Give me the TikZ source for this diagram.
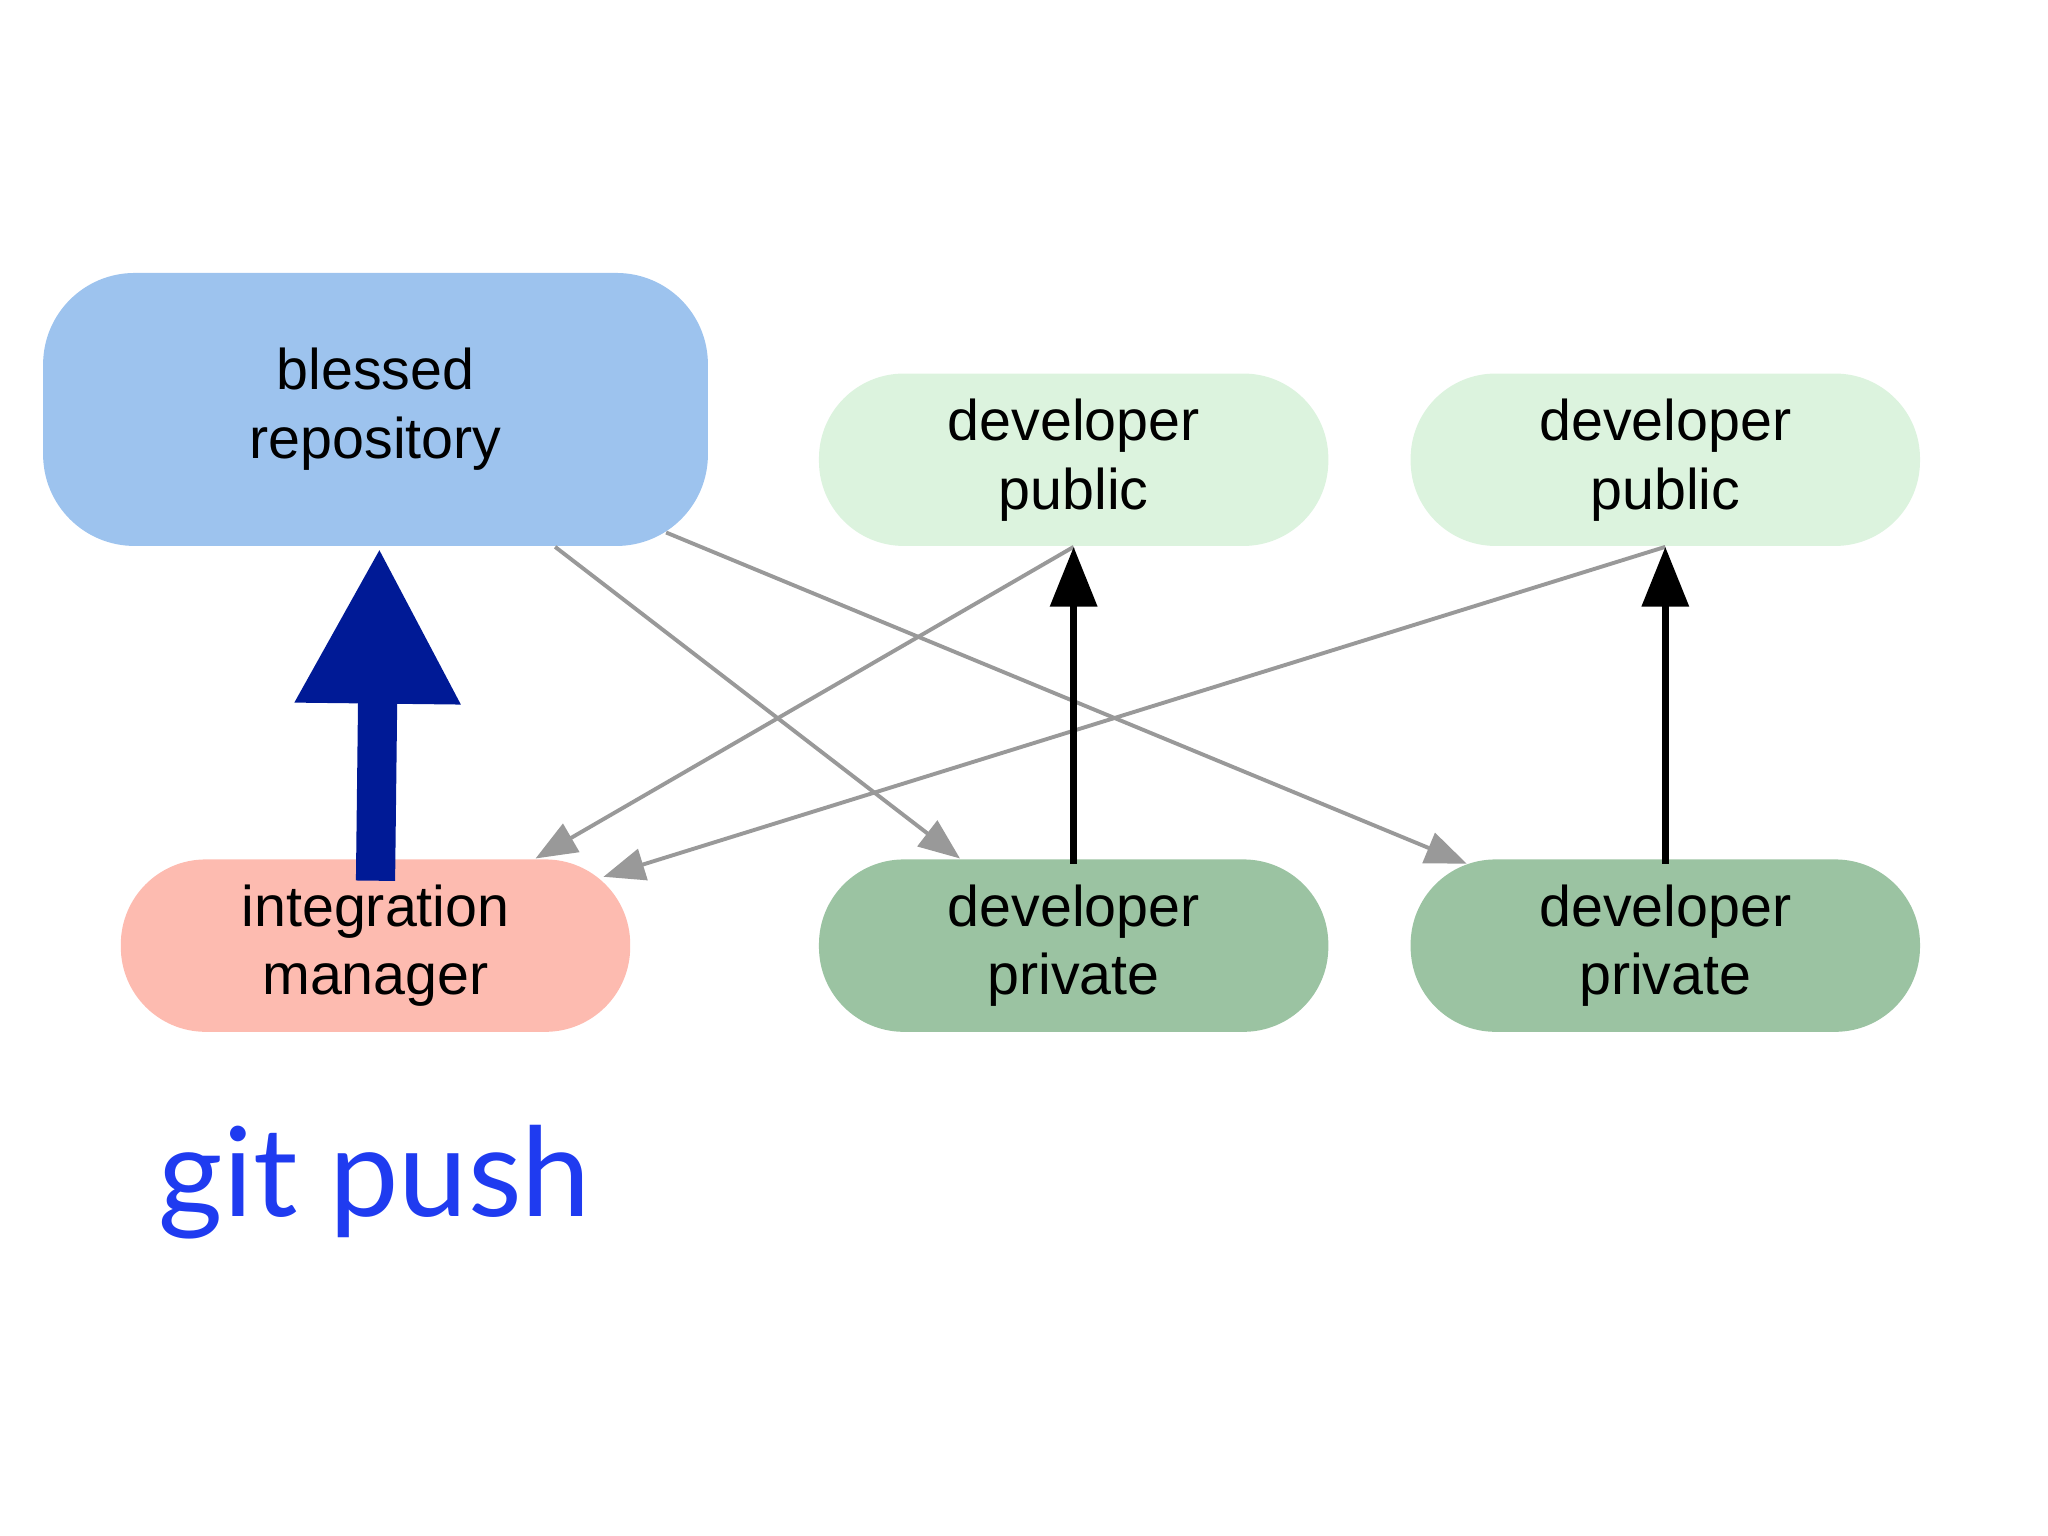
\documentclass[tikz,border=0pt]{standalone}
\usepackage{fontspec}
\setmainfont{Liberation Sans}
\newfontfamily\pushfont{Lato}
\usetikzlibrary{arrows.meta,positioning}
\definecolor{blessedblue}{HTML}{9DC3EE}
\definecolor{pubgreen}{HTML}{DCF3DE}
\definecolor{privgreen}{HTML}{9BC3A2}
\definecolor{mgrred}{HTML}{FDBBB0}
\definecolor{pushnavy}{HTML}{001A96}
\definecolor{pushblue}{HTML}{1F3BF0}
\tikzset{
  repo/.style={rectangle, rounded corners=0.65cm, minimum width=3.9cm, minimum height=1.32cm,
    align=center, font=\fontsize{12.5}{15}\selectfont, inner sep=0pt},
  pull/.style={draw=black!40, line width=0.85pt, -{Triangle[width=7pt,length=9pt]}},
  publish/.style={draw=black, line width=1.5pt, -{Triangle[width=10pt,length=13pt]}},
}
\begin{document}
\begin{tikzpicture}
\useasboundingbox (0,0) rectangle (15.68,-11.76);

\node [repo, fill=blessedblue, rounded corners=0.7cm, minimum width=5.09cm, minimum height=2.09cm] (blessed) at (2.875,-3.135) {blessed\\repository};
\node [repo, fill=pubgreen] (pub_a) at (8.22,-3.52) {developer\\public};
\node [repo, fill=pubgreen] (pub_b) at (12.75,-3.52) {developer\\public};
\node [repo, fill=mgrred] (manager) at (2.875,-7.24) {integration\\manager};
\node [repo, fill=privgreen] (priv_a) at (8.22,-7.24) {developer\\private};
\node [repo, fill=privgreen] (priv_b) at (12.75,-7.24) {developer\\private};

\node [font=\pushfont\fontsize{27}{30}\selectfont, text=pushblue] (push) at (2.87,-9.05) {git push};

% pulls from public repositories
\draw [pull] ([xshift=1.375cm]blessed.south) -- ([xshift=-0.87cm]priv_a.north);
\draw [pull] ([xshift=2.225cm, yshift=0.11cm]blessed.south) -- ([xshift=-1.52cm, yshift=-0.04cm]priv_b.north);
\draw [pull] (pub_a.south) -- ([xshift=1.225cm]manager.north);
\draw [pull] (pub_b.south) -- ([xshift=1.745cm, yshift=-0.14cm]manager.north);

% developers publish
\draw [publish] ([yshift=-0.04cm]priv_a.north) -- (pub_a.south);
\draw [publish] ([yshift=-0.04cm]priv_b.north) -- (pub_b.south);

% manager pushes
\draw [pushnavy, line width=0.3cm, -{Triangle[width=1.18cm,length=1.2cm]}] ([yshift=-0.17cm]manager.north) -- ([xshift=0.03cm]blessed.south);
\end{tikzpicture}
\end{document}
